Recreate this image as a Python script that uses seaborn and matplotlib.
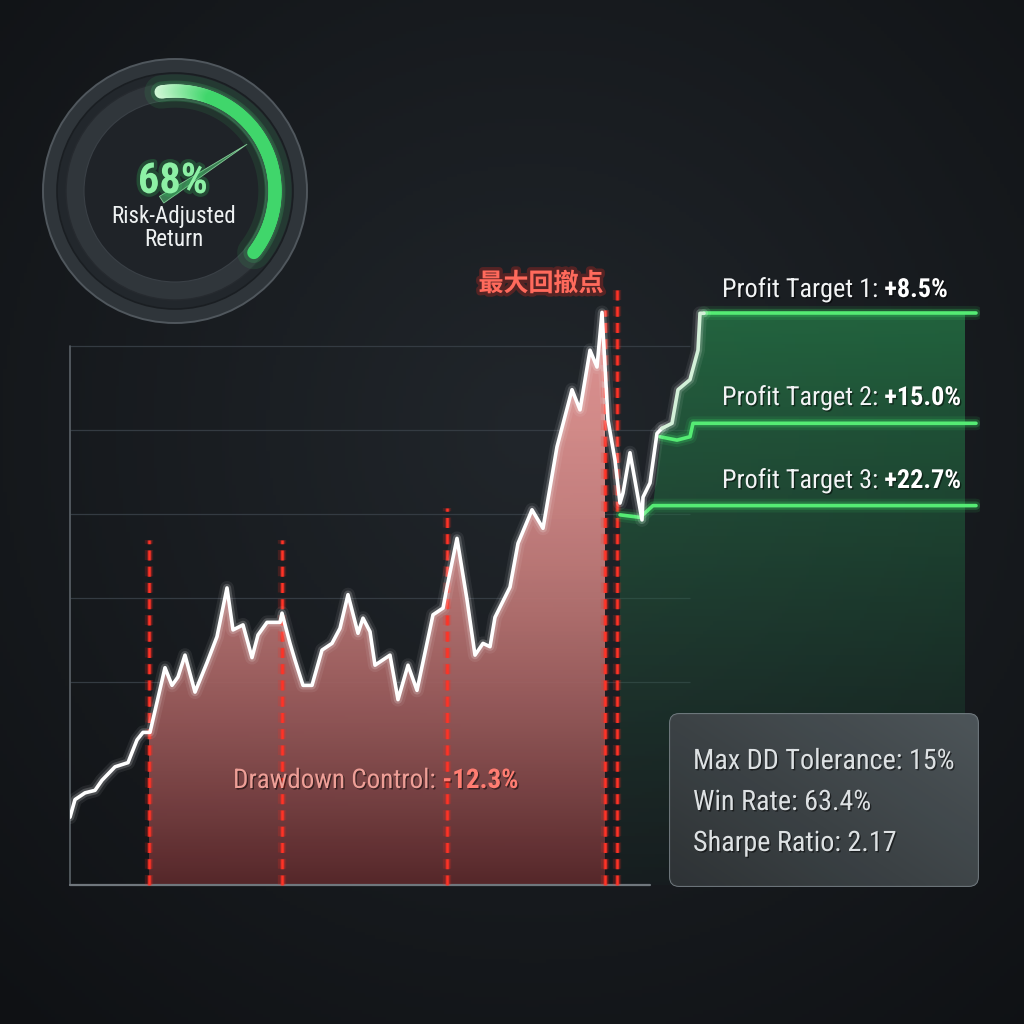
import numpy as np
import matplotlib
matplotlib.use('Agg')
import matplotlib.pyplot as plt
import matplotlib.patheffects as pe
from matplotlib.patches import Circle, FancyBboxPatch, Polygon
from matplotlib.collections import LineCollection
import seaborn as sns

# ---- data ----
# equity curve: t (weeks) and equity index
t = [0, 1, 3, 5, 6.4, 9, 11.6, 13.4, 14.6, 16, 19, 20.4, 21.6, 23, 25, 27.4, 29.4,
     31.4, 32.6, 34.6, 36.4, 37.6, 39.4, 42, 42.4, 44, 45, 46.6, 48.4, 50.4, 52.4,
     54, 55.6, 57.6, 58.6, 60, 61, 64, 65.6, 67.6, 69.4, 72.6, 74.6, 75.4, 77.4,
     79.4, 81, 82.6, 84, 85, 88, 89.6, 92.4, 94.6, 97.4, 100.4, 102, 104, 105.4,
     106.4, 107.6, 109, 110, 110.6, 112, 114.4, 114.6, 116, 117.4, 118.4]
equity = [83.9, 86.0, 86.8, 87.1, 88.3, 89.9, 90.4, 93.1, 94.0, 94.0, 101.7, 99.6,
          100.6, 103.2, 98.8, 102.3, 105.4, 111.2, 106.2, 106.8, 102.9, 105.6, 107.1,
          107.1, 108.2, 104.6, 102.6, 99.6, 99.6, 103.8, 104.6, 106.4, 110.4, 105.8,
          107.6, 106.0, 102.0, 103.2, 97.9, 102.0, 99.0, 108.0, 108.8, 111.3, 117.1,
          109.8, 103.2, 104.6, 104.2, 107.7, 111.3, 116.5, 120.5, 118.3, 128.0, 134.8,
          132.4, 139.5, 137.5, 144.0, 131.2, 126.4, 121.3, 122.5, 127.3, 119.3, 122.0,
          123.7, 129.6, 130.2]

# recovery leg running into target 1
rec_t = [118.4, 120.4, 121.6, 124, 125.6, 126, 126.8]
rec_eq = [130.2, 130.8, 134.8, 136.0, 139.5, 143.9, 143.9]

# profit target levels
tp1_t = [126.8, 181.2]
tp1_v = [143.9, 143.9]
tp2_t = [118, 121.4, 124, 124.6, 181.2]
tp2_v = [129.2, 128.8, 129.2, 130.8, 130.8]
tp3_t = [110, 114, 116.6, 181.2]
tp3_v = [119.9, 119.6, 121.0, 121.0]
tp_labels = ['Profit Target 1: ', 'Profit Target 2: ', 'Profit Target 3: ']
tp_values = ['+8.5%', '+15.0%', '+22.7%']

# drawdown markers
dd_t = [15.8, 42.4, 75.4, 107, 109.4]
dd_top = [116.9, 116.9, 120.7, 144.3, 147.0]

grid_levels = [100, 110, 120, 130, 140]

gauge_pct = 68
stats = ['Max DD Tolerance: 15%', 'Win Rate: 63.4%', 'Sharpe Ratio: 2.17']

W = 1024
YLO, YHI = 75.83, 145.48

sns.set_theme(style='dark')
plt.rcParams['font.family'] = ['Roboto Condensed', 'Liberation Sans Narrow', 'Roboto', 'DejaVu Sans']
plt.rcParams['axes.unicode_minus'] = False

fig = plt.figure(figsize=(10.24, 10.24), dpi=100)
fig.patch.set_facecolor('#15181b')

# background vignette
bg = fig.add_axes([0, 0, 1, 1], zorder=-1)
yy, xx = np.mgrid[0:1:300j, 0:1:300j]
r = np.sqrt((xx - 0.52) ** 2 + (yy - 0.42) ** 2)
k = np.clip(r / 0.78, 0, 1)[..., None]
c_in = np.array([33, 38, 43]) / 255
c_out = np.array([15, 17, 20]) / 255
bg.imshow(c_in * (1 - k) + c_out * k, extent=[0, 1, 0, 1], origin='upper', aspect='auto')
bg.axis('off')


def grad_fill(ax, xs, ys, top, bottom, y1, zorder, power=1.0):
    """vertical gradient under a curve, clipped to the fill polygon"""
    poly = ax.fill_between(xs, ys, YLO, facecolor='none', edgecolor='none')
    kk = np.linspace(0, 1, 256)[:, None] ** power
    g = np.array(top) * (1 - kk) + np.array(bottom) * kk
    im = ax.imshow(g[:, None, :], extent=[min(xs), max(xs), YLO, y1], origin='upper',
                   aspect='auto', zorder=zorder, interpolation='bicubic')
    im.set_clip_path(poly.get_paths()[0], ax.transData)


# main chart
ax = fig.add_axes([70 / W, 139 / W, 910 / W, 585 / W], zorder=1)
ax.patch.set_alpha(0)
ax.axis('off')

# red drawdown area
t_arr, e_arr = np.array(t), np.array(equity)
lo, hi = dd_t[0], dd_t[3]
m = (t_arr > lo) & (t_arr < hi)
fx = np.r_[lo, t_arr[m], hi]
fy = np.r_[np.interp(lo, t_arr, e_arr), e_arr[m], np.interp(hi, t_arr, e_arr)]
grad_fill(ax, fx, fy, (0.89, 0.59, 0.58, 0.96), (0.36, 0.16, 0.17, 0.92), max(fy), 2, power=1.7)

# green target zone
gx = tp3_t[:3] + rec_t + [179]
gy = tp3_v[:3] + rec_eq + [tp1_v[0]]
grad_fill(ax, gx, gy, (0.15, 0.50, 0.29, 0.72), (0.12, 0.30, 0.22, 0.08), tp1_v[0], 2)

# grid and axis lines
ax.hlines(grid_levels, 0, 124, colors='#343b42', lw=0.9, zorder=1.5)
ax.plot([0, 0], [YLO, 140], color='#5b6268', lw=1.2, clip_on=False, zorder=3)
ax.plot([0, 116], [YLO, YLO], color='#70777d', lw=1.6, clip_on=False, zorder=3)

# drawdown markers
red_glow = [pe.Stroke(linewidth=6, foreground='#ff2a1f', alpha=0.18),
            pe.Stroke(linewidth=3.5, foreground='#ff2a1f', alpha=0.3), pe.Normal()]
ax.vlines(dd_t, YLO, dd_top, colors='#ff3326', linestyles=(0, (4, 2.5)), lw=1.8,
          clip_on=False, zorder=4, path_effects=red_glow)

# lines
glow_w = [pe.Stroke(linewidth=10, foreground='white', alpha=0.07),
          pe.Stroke(linewidth=6, foreground='white', alpha=0.18), pe.Normal()]
sns.lineplot(x=t, y=equity, ax=ax, color='white', lw=2.6, estimator=None,
             path_effects=glow_w, zorder=6)
sns.lineplot(x=rec_t, y=rec_eq, ax=ax, color='#d3f0d8', lw=2.6, estimator=None,
             path_effects=glow_w, zorder=6)
glow_g = [pe.Stroke(linewidth=10, foreground='#3ee86a', alpha=0.10),
          pe.Stroke(linewidth=6, foreground='#3ee86a', alpha=0.22), pe.Normal()]
for xs, ys in [(tp1_t, tp1_v), (tp2_t, tp2_v), (tp3_t, tp3_v)]:
    sns.lineplot(x=xs, y=ys, ax=ax, color='#55ec74', lw=2.6, estimator=None,
                 path_effects=glow_g, zorder=5)

ax.set_xlim(0, 182)
ax.set_ylim(YLO, YHI)
ax.set_xlabel('')
ax.set_ylabel('')

# gauge
g = fig.add_axes([35 / W, (W - 191 - 140) / W, 280 / W, 280 / W], zorder=4)
g.patch.set_alpha(0)
g.set_xlim(-140, 140)
g.set_ylim(-140, 140)
g.axis('off')
g.add_patch(Circle((0, 0), 132, fc='#2f353a', ec='#50575d', lw=1.4))
g.add_patch(Circle((0, 0), 118, fc='#22272c', ec='#1a1e22', lw=1.2))
g.add_patch(Circle((0, 0), 109, fc='#30363b', ec='#262a2f', lw=1))
g.add_patch(Circle((0, 0), 91, fc='#1f2328', ec='#3a4046', lw=0.8))

start = 98
sweep = gauge_pct / 100 * 200
th = np.radians(np.linspace(start, start - sweep, 140))
ax_x, ax_y = 100 * np.cos(th), 100 * np.sin(th)
g.plot(ax_x, ax_y, color='#3fd86c', lw=24, alpha=0.10, solid_capstyle='round')
g.plot(ax_x, ax_y, color='#3fd86c', lw=15, alpha=0.18, solid_capstyle='round')
pts = np.column_stack([ax_x, ax_y]).reshape(-1, 1, 2)
segs = np.concatenate([pts[:-1], pts[1:]], axis=1)
mix = np.clip(np.linspace(0, 1, len(segs)) / 0.22, 0, 1)[:, None]
cols = np.array([0.82, 0.97, 0.84]) * (1 - mix) + np.array([0.25, 0.84, 0.42]) * mix
g.add_collection(LineCollection(segs, colors=cols, lw=9.5, capstyle='round'))

# needle
ang = np.radians(33)
d = np.array([np.cos(ang), np.sin(ang)])
p = np.array([-d[1], d[0]])
base = -16 * d
tip = 86 * d
g.add_patch(Polygon([base + 4 * p, tip, base - 4 * p], closed=True,
                    fc='#3f8a58', ec='#8fd9a2', lw=0.6, alpha=0.9))

# text overlay (pixel layout)
top = fig.add_axes([0, 0, 1, 1], zorder=5)
top.patch.set_alpha(0)
top.set_xlim(0, W)
top.set_ylim(W, 0)
top.axis('off')

shadow = [pe.withSimplePatchShadow(offset=(1, -1), shadow_rgbFace='black', alpha=0.5)]
top.text(173, 193, f'{gauge_pct}%', fontsize=30.5, fontweight='bold', color='#8df0a5',
         ha='center', va='baseline',
         path_effects=[pe.Stroke(linewidth=5, foreground='#2fbf5a', alpha=0.25), pe.Normal()])
top.text(174, 222.5, 'Risk-Adjusted', fontsize=16.6, color='#eef1f2', ha='center', va='baseline')
top.text(174, 246.5, 'Return', fontsize=16.6, color='#eef1f2', ha='center', va='baseline')

top.text(541, 291, '最大回撤点', fontsize=18, fontweight='bold', color='#ff6a5c',
         family=['Noto Sans CJK SC'], ha='center', va='baseline',
         path_effects=[pe.Stroke(linewidth=5, foreground='#ff2a1f', alpha=0.25), pe.Normal()])


def two_part(x, y, plain, bold, size, c1, c2):
    t1 = top.text(x, y, plain, fontsize=size, color=c1, ha='left', va='baseline',
                  path_effects=shadow)
    top.annotate(bold, xy=(1, 0), xycoords=t1, fontsize=size, color=c2,
                 fontweight='bold', ha='left', va='bottom', path_effects=shadow)


for lab, val, yb in zip(tp_labels, tp_values, [297, 405, 488]):
    two_part(722, yb, lab, val, 18.9, '#f2f4f5', 'white')

two_part(233, 788, 'Drawdown Control: ', '-12.3%', 19.5, '#ee9f97', '#ff7d72')

# stats panel
box = FancyBboxPatch((670, 714), 308, 172, boxstyle='round,pad=0,rounding_size=9',
                     fc='#3a4247', ec='#7d868c', lw=1.3, alpha=0.92, zorder=2)
top.add_patch(box)
gy_, gx_ = np.mgrid[0:1:60j, 0:1:60j]
shade = (0.24 + 0.07 * gx_ - 0.06 * gy_)[..., None] * np.array([1.0, 1.1, 1.15])
im = top.imshow(np.clip(shade, 0, 1), extent=[670, 978, 886, 714], aspect='auto',
                zorder=2.5, alpha=0.92, interpolation='bicubic')
im.set_clip_path(box)
for s, yb in zip(stats, [769, 810, 851]):
    top.text(693, yb, s, fontsize=20.3, color='#dde1e3', ha='left', va='baseline',
             zorder=4, path_effects=shadow)
top.set_xlim(0, W)
top.set_ylim(W, 0)

fig.savefig('out.png', dpi=100, facecolor=fig.get_facecolor())
